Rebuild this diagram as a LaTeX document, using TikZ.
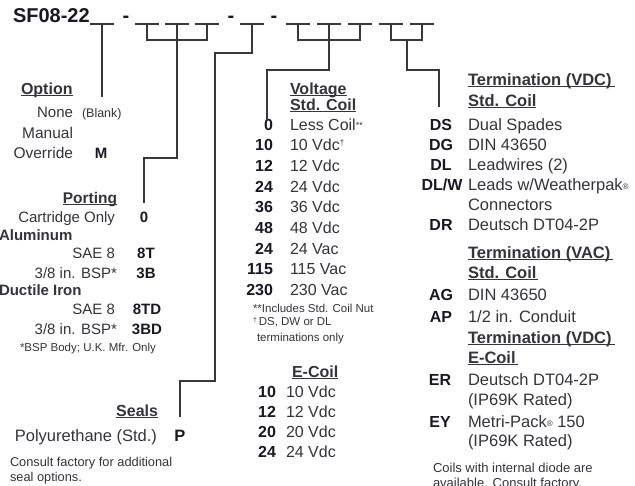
\documentclass[tikz,border=0pt]{standalone}
\usepackage{fontspec}
\setmainfont{Liberation Sans}
\definecolor{txt}{RGB}{52,52,62}
\definecolor{cod}{RGB}{25,25,38}
\definecolor{ln}{RGB}{55,55,60}
\newcommand\fsz[1]{\fontsize{#1}{#1}\selectfont}
\newcommand\ulx[1]{\setbox0\hbox{#1}\rlap{\rule[-2.2pt]{\wd0}{0.9pt}}\box0}
\begin{document}
\begin{tikzpicture}[x=1pt,y=-1pt,
  every node/.style={inner sep=0pt,outer sep=0pt},
  lab/.style={font=\fsz{15},text=txt,anchor=base east},
  desc/.style={font=\fsz{16},text=txt,anchor=base west},
  rdesc/.style={font=\fsz{16.5},text=txt,anchor=base west},
  code/.style={font=\fsz{15}\bfseries,text=cod,anchor=base},
  rcode/.style={font=\fsz{16}\bfseries,text=cod,anchor=base},
  codee/.style={font=\fsz{16}\bfseries,text=cod,anchor=base east},
  headw/.style={font=\fsz{16}\bfseries,text=txt,anchor=base west},
  rhead/.style={font=\fsz{16.5}\bfseries,text=txt,anchor=base west},
  heade/.style={font=\fsz{15.5}\bfseries,text=txt,anchor=base east},
  small/.style={font=\fsz{11.5},text=txt,anchor=base west},
  blank/.style={fill=ln,minimum width=24pt,minimum height=1.3pt},
  hyph/.style={font=\fsz{20}\bfseries,text=cod,anchor=base},
  conn/.style={draw=ln,line width=1.2pt}]
\useasboundingbox (0,0) rectangle (635,485);
\clip (0,0) rectangle (635,485);
\fill[white] (0,0) rectangle (635,485);

% ---------- part number ----------
\node[font=\fsz{20}\bfseries,text=cod,anchor=base west] (pn) at (13,22) {SF08-22};
\node[blank] (b1) at (102,24) {};
\node[hyph] (d1) at (126,22) {-};
\node[blank] (b2) at (147,24) {};
\node[blank] (b3) at (177,24) {};
\node[blank] (b4) at (207,24) {};
\node[hyph] (d2) at (231,22) {-};
\node[blank] (b5) at (252,24) {};
\node[hyph] (d3) at (274,22) {-};
\node[blank] (b6) at (298,24) {};
\node[blank] (b7) at (329,24) {};
\node[blank] (b8) at (360,24) {};
\node[blank] (b9) at (391,24) {};
\node[blank] (b10) at (422,24) {};

% ---------- left column ----------
\node[headw] (hOpt) at (21,94) {\ulx{Option}};
\node[lab] (tNone) at (73,117) {None};
\node[small,font=\fsz{12.5}] (tBlank) at (82,117) {(Blank)};
\node[lab,font=\fsz{15.5}] (tMan) at (73,138) {Manual};
\node[lab,font=\fsz{15.5}] (tOvr) at (73,158) {Override};
\node[code] (cM) at (101,158) {M};

\node[heade] (hPort) at (117,203) {\ulx{Porting}};
\node[lab] (tCart) at (115,222) {Cartridge Only};
\node[code] (c0) at (144,222) {0};
\node[headw,font=\fsz{15}\bfseries] (hAl) at (-1,240) {Aluminum};
\node[lab] (tSae1) at (115,258) {SAE 8};
\node[code] (c8T) at (146,258) {8T};
\node[lab] (tBsp1) at (117,278) {3/8 in. BSP*};
\node[code] (c3B) at (146,278) {3B};
\node[headw,font=\fsz{15}\bfseries] (hDi) at (-1,295) {Ductile Iron};
\node[lab] (tSae2) at (115,314) {SAE 8};
\node[code] (c8TD) at (147,314) {8TD};
\node[lab] (tBsp2) at (117,334) {3/8 in. BSP*};
\node[code] (c3BD) at (147,334) {3BD};
\node[small] (nBsp) at (20,351) {*BSP Body; U.K. Mfr. Only};

\node[heade,font=\fsz{16}\bfseries] (hSeal) at (158,416) {\ulx{Seals}};
\node[lab,font=\fsz{16.5}] (tPoly) at (157,441) {Polyurethane (Std.)};
\node[code,font=\fsz{16.5}\bfseries] (cP) at (180,441) {P};
\node[small,font=\fsz{12.8}] (nCon1) at (10,466) {Consult factory for additional};
\node[small,font=\fsz{12.8}] (nCon2) at (10,481) {seal options.};

% ---------- voltage column ----------
\node[headw] (hVolt) at (290,94) {\ulx{Voltage}};
\node[headw] (hStd1) at (290,110) {\ulx{Std. Coil}};
\node[codee] (v0) at (273,130) {0};
\node[desc] at (290,130) {Less Coil{\fsz{9}\raisebox{2pt}{**}}};
\node[codee] (v10) at (273,150.6) {10};
\node[desc] at (290,150.6) {10 Vdc{\fsz{8}\raisebox{5pt}{†}}};
\node[codee] (v12) at (273,171) {12};
\node[desc] at (290,171) {12 Vdc};
\node[codee] (v24) at (273,192) {24};
\node[desc] at (290,192) {24 Vdc};
\node[codee] (v36) at (273,212) {36};
\node[desc] at (290,212) {36 Vdc};
\node[codee] (v48) at (273,233) {48};
\node[desc] at (290,233) {48 Vdc};
\node[codee] (v24a) at (273,254) {24};
\node[desc] at (290,254) {24 Vac};
\node[codee] (v115) at (273,274) {115};
\node[desc] at (290,274) {115 Vac};
\node[codee] (v230) at (273,295) {230};
\node[desc] at (290,295) {230 Vac};
\node[small] (nInc) at (253,312) {**Includes Std. Coil Nut};
\node[small] (nDs1) at (253,325) {{\fsz{7}\raisebox{3pt}{†}}\,DS, DW or DL};
\node[small] (nDs2) at (257,341) {terminations only};

\node[headw] (hEc) at (292,377) {\ulx{E-Coil}};
\node[codee] (e10) at (276,397) {10};
\node[desc] at (286,397) {10 Vdc};
\node[codee] (e12) at (276,417) {12};
\node[desc] at (286,417) {12 Vdc};
\node[codee] (e20) at (276,437) {20};
\node[desc] at (286,437) {20 Vdc};
\node[codee] (e24) at (276,457) {24};
\node[desc] at (286,457) {24 Vdc};

% ---------- termination column ----------
\node[rhead] (hT1) at (468,85) {\ulx{Termination (VDC)\hspace{3pt}}};
\node[rhead] (hT1b) at (468,106) {\ulx{Std. Coil}};
\node[rcode] (tDS) at (441,130) {DS};
\node[rdesc] at (468,130) {Dual Spades};
\node[rcode] (tDG) at (441,150) {DG};
\node[rdesc] at (468,150) {DIN 43650};
\node[rcode] (tDL) at (441,170) {DL};
\node[rdesc] at (468,170) {Leadwires (2)};
\node[rcode] (tDLW) at (442,190) {DL/W};
\node[rdesc] at (468,190) {Leads w/Weatherpak{\fsz{8}\raisebox{1pt}{®}}};
\node[rdesc] at (468,210) {Connectors};
\node[rcode] (tDR) at (441,230) {DR};
\node[rdesc] at (468,230) {Deutsch DT04-2P};

\node[rhead] (hT2) at (468,258) {\ulx{Termination (VAC)\hspace{3pt}}};
\node[rhead] (hT2b) at (468,278) {\ulx{Std. Coil\hspace{2pt}}};
\node[rcode] (tAG) at (441,300) {AG};
\node[rdesc] at (468,300) {DIN 43650};
\node[rcode] (tAP) at (441,322) {AP};
\node[rdesc] at (468,322) {1/2 in. Conduit};

\node[rhead] (hT3) at (468,343) {\ulx{Termination (VDC)\hspace{3pt}}};
\node[rhead] (hT3b) at (468,363) {\ulx{E-Coil\hspace{2pt}}};
\node[rcode] (tER) at (440,385) {ER};
\node[rdesc] at (468,385) {Deutsch DT04-2P};
\node[rdesc] at (468,405) {(IP69K Rated)};
\node[rcode] (tEY) at (440,427) {EY};
\node[rdesc] at (468,427) {Metri-Pack{\fsz{8}\raisebox{1pt}{®}} 150};
\node[rdesc] at (468,446) {(IP69K Rated)};
\node[small,font=\fsz{13}] (nCoil1) at (433,472) {Coils with internal diode are};
\node[small,font=\fsz{13}] (nCoil2) at (433,487) {available. Consult factory.};

% ---------- connectors ----------
\coordinate (oEnd) at (102,97);
\draw[conn] (b1.south) -- (oEnd);

\coordinate (pj) at (177,40);
\draw[conn] (b2.south) |- (pj) -| (b4.south);
\draw[conn] (b3.south) -- (pj);
\coordinate (pk) at (177,158);
\coordinate (pEnd) at (144,203);
\draw[conn] (pj) -- (pk) -| (pEnd);

\coordinate (sj) at (215,53);
\coordinate (sk) at (215,381);
\coordinate (sEnd) at (180,417);
\draw[conn] (b5.south) |- (sj) -- (sk) -| (sEnd);

\coordinate (vj) at (329,40);
\draw[conn] (b6.south) |- (vj) -| (b8.south);
\draw[conn] (b7.south) -- (vj);
\coordinate (vk) at (329,70);
\coordinate (vEnd) at (267,120);
\draw[conn] (vj) -- (vk) -| (vEnd);

\coordinate (tj) at (407,40);
\draw[conn] (b9.south) |- (tj) -| (b10.south);
\coordinate (tk) at (407,70);
\coordinate (tEnd) at (439,107);
\draw[conn] (tj) -- (tk) -| (tEnd);
\end{tikzpicture}
\end{document}
